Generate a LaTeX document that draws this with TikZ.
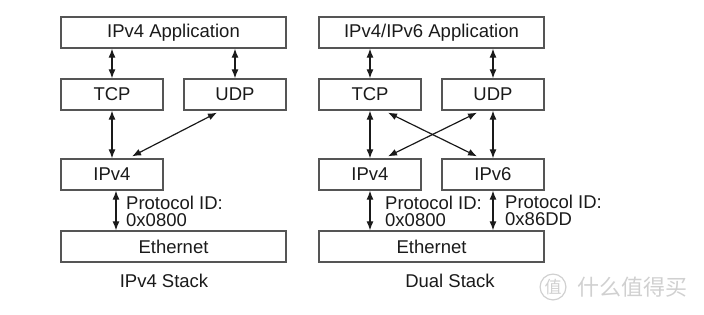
\documentclass[tikz,border=0pt]{standalone}
\usepackage{fontspec}
\setmainfont{Liberation Sans}
\newfontfamily\cjk{Noto Sans CJK SC}
\usepackage{tikz}
\usetikzlibrary{arrows.meta,positioning}
\definecolor{boxline}{HTML}{555555}
\definecolor{inkdark}{HTML}{1A1A1A}
\definecolor{markgray}{HTML}{D0D0D0}

\begin{document}
\begin{tikzpicture}[
  x=1pt, y=-1pt,
  layer/.style={
    rectangle, draw=boxline, line width=1.3pt,
    minimum height=31pt, inner sep=0pt,
    text=inkdark, font=\fontsize{18.5}{20}\selectfont,
  },
  halfbox/.style={layer, minimum width=102pt},
  fullbox/.style={layer, minimum width=225pt},
  link/.style={{Latex[length=9pt,width=7pt]}-{Latex[length=9pt,width=7pt]}, line width=1.2pt, inkdark},
  protoid/.style={anchor=west, align=left, inner sep=0pt, text=inkdark, font=\fontsize{18.5}{17}\selectfont},
  caption/.style={text=inkdark, font=\fontsize{18.5}{20}\selectfont},
]
\useasboundingbox (0,0) rectangle (704,314);

% IPv4 stack
\node[fullbox] (lapp) at (173.5, 32.5) {IPv4 Application};
\node[halfbox] (ltcp) at (112, 94.5) {TCP};
\node[halfbox] (ludp) at (235, 94.5) {UDP};
\node[halfbox] (lip4) at (112, 174.5) {IPv4};
\node[fullbox] (leth) at (173.5, 246.5) {Ethernet};
\node[caption] (lcap) at (164, 281) {IPv4 Stack};

\draw[link] (lapp.south -| ltcp) -- (ltcp.north);
\draw[link] (lapp.south -| ludp) -- (ludp.north);
\draw[link] (ltcp.south) -- (lip4.north);
\draw[link] ([xshift=-18pt,yshift=-2pt]ludp.south) -- ([xshift=20pt,yshift=2pt]lip4.north);
\draw[link] ([xshift=4pt]lip4.south) -- ([xshift=4pt]lip4.south |- leth.north);
\node[protoid] (lpid) at (126, 211) {Protocol ID:\\0x0800};

% Dual stack
\node[fullbox] (rapp) at (431.5, 32.5) {IPv4/IPv6 Application};
\node[halfbox] (rtcp) at (370, 94.5) {TCP};
\node[halfbox] (rudp) at (493, 94.5) {UDP};
\node[halfbox] (rip4) at (370, 174.5) {IPv4};
\node[halfbox] (rip6) at (493, 174.5) {IPv6};
\node[fullbox] (reth) at (431.5, 246.5) {Ethernet};
\node[caption] (rcap) at (450, 281) {Dual Stack};

\draw[link] (rapp.south -| rtcp) -- (rtcp.north);
\draw[link] (rapp.south -| rudp) -- (rudp.north);
\draw[link] (rtcp.south) -- (rip4.north);
\draw[link] (rudp.south) -- (rip6.north);
\draw[link] ([xshift=18pt,yshift=-2pt]rtcp.south) -- ([xshift=-16pt,yshift=2pt]rip6.north);
\draw[link] ([xshift=-16pt,yshift=-2pt]rudp.south) -- ([xshift=18pt,yshift=2pt]rip4.north);
\draw[link] (rip4.south) -- (rip4.south |- reth.north);
\draw[link] (rip6.south) -- (rip6.south |- reth.north);
\node[protoid] (rpid4) at (385, 211) {Protocol ID:\\0x0800};
\node[protoid] (rpid6) at (505, 210) {Protocol ID:\\0x86DD};

% watermark
\node[circle, draw=markgray, line width=1.2pt, inner sep=1pt, text=markgray, font=\cjk\fontsize{17}{17}\selectfont] (wlogo) at (553, 287) {值};
\node[anchor=west, inner sep=0pt, text=markgray, font=\cjk\fontsize{22}{22}\selectfont] (wtext) at (577, 287) {什么值得买};
\end{tikzpicture}
\end{document}
